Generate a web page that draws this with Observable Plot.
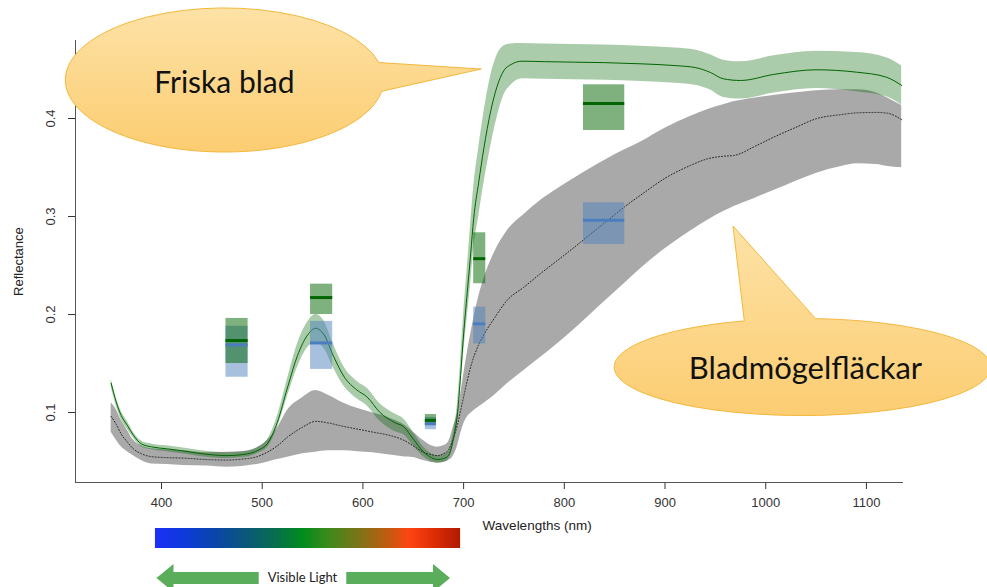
<!DOCTYPE html>
<html><head><meta charset="utf-8">
<script src="https://cdn.jsdelivr.net/npm/d3@7"></script>
<script src="https://cdn.jsdelivr.net/npm/@observablehq/plot@0.6"></script>
<style>body{margin:0;background:#fff} #chart svg{display:block}</style>
</head><body><div id="chart"></div>
<script>
// ---------- data ----------
const healthyWl = [350,355,360,366,372,380,390,405,420,440,465,480,490,497,505,515,525,535,545,553,561,571,581,594,604,617,631,641,650,660,668,674,680,685,690,694,697,700,703.5,707,710,715,720,727,733,740,747,758,780,810,840,876,910,930,945,958,975,1008,1050,1090,1120,1135];
const healthyMean = [0.130,0.111,0.097,0.087,0.077,0.068,0.065,0.063,0.061,0.058,0.056,0.057,0.059,0.062,0.068,0.090,0.125,0.158,0.179,0.186,0.180,0.157,0.137,0.123,0.116,0.100,0.090,0.085,0.073,0.060,0.054,0.052,0.053,0.056,0.074,0.100,0.138,0.180,0.221,0.262,0.298,0.335,0.369,0.408,0.432,0.449,0.455,0.4585,0.458,0.4575,0.457,0.4558,0.454,0.452,0.447,0.4405,0.4388,0.445,0.4497,0.4473,0.4421,0.4337];
const healthySd = [0.004,0.004,0.004,0.004,0.003,0.003,0.003,0.003,0.003,0.003,0.003,0.003,0.003,0.003,0.004,0.006,0.009,0.012,0.013,0.014,0.014,0.012,0.010,0.009,0.009,0.009,0.009,0.008,0.007,0.005,0.004,0.004,0.004,0.004,0.006,0.010,0.014,0.020,0.025,0.030,0.032,0.035,0.036,0.036,0.032,0.025,0.021,0.018,0.018,0.018,0.018,0.018,0.018,0.018,0.018,0.019,0.019,0.019,0.019,0.020,0.020,0.020];

const diseasedWl = [350,355,360,366,372,380,390,405,422,445,465,480,495,505,515,525,540,553,565,580,595,610,625,640,650,660,668,674,680,685,690,694,697,700,703.5,708,714,721,731,743,760,776,793,810,826,843,860,876,900,925,942,958,968,990,1008,1030,1050,1075,1091,1110,1121,1135];
const diseasedMean = [0.096,0.088,0.078,0.070,0.063,0.058,0.055,0.054,0.0535,0.052,0.0515,0.0525,0.055,0.0595,0.066,0.0748,0.085,0.091,0.0895,0.086,0.083,0.080,0.077,0.072,0.066,0.0595,0.057,0.056,0.058,0.062,0.074,0.088,0.102,0.116,0.132,0.150,0.167,0.181,0.197,0.2143,0.228,0.2415,0.255,0.2687,0.282,0.296,0.310,0.322,0.339,0.352,0.3588,0.3615,0.3622,0.372,0.381,0.391,0.3997,0.404,0.4058,0.4062,0.4054,0.3987];
const diseasedHi = [0.110,0.103,0.092,0.082,0.072,0.066,0.063,0.062,0.061,0.059,0.0595,0.060,0.064,0.0714,0.084,0.102,0.115,0.1224,0.118,0.110,0.104,0.0995,0.095,0.088,0.080,0.0714,0.066,0.0646,0.066,0.070,0.086,0.100,0.118,0.138,0.160,0.185,0.214,0.239,0.264,0.285,0.302,0.316,0.328,0.339,0.349,0.359,0.368,0.376,0.390,0.402,0.409,0.414,0.417,0.421,0.4235,0.4262,0.4283,0.4293,0.4293,0.4260,0.4210,0.4133];
const diseasedLo = [0.080,0.072,0.065,0.060,0.056,0.051,0.0476,0.047,0.046,0.0455,0.0442,0.045,0.047,0.0493,0.052,0.0544,0.058,0.0595,0.061,0.061,0.060,0.059,0.057,0.055,0.054,0.051,0.049,0.0485,0.049,0.051,0.056,0.066,0.078,0.088,0.0952,0.100,0.105,0.110,0.118,0.129,0.143,0.156,0.170,0.185,0.200,0.216,0.232,0.247,0.267,0.285,0.296,0.305,0.310,0.319,0.3265,0.336,0.344,0.351,0.3538,0.353,0.351,0.3497];

// band-averaged boxes (wavelength span, mean, range)
const boxX1 = [464, 548, 662, 710, 819];
const boxX2 = [486, 570, 673, 722, 860];
const boxHealthyMean = [0.1735, 0.2173, 0.092, 0.257, 0.4153];
const boxHealthyLo   = [0.150, 0.200, 0.087, 0.2314, 0.3878];
const boxHealthyHi   = [0.196, 0.231, 0.098, 0.2834, 0.4344];
const boxDiseasedMean = [0.169, 0.171, 0.0885, 0.1905, 0.2962];
const boxDiseasedLo   = [0.136, 0.144, 0.0825, 0.170, 0.2714];
const boxDiseasedHi   = [0.188, 0.193, 0.095, 0.2075, 0.314];

const xTicks = [400, 500, 600, 700, 800, 900, 1000, 1100];
const yTicks = [0.1, 0.2, 0.3, 0.4];
const spectrumWl = [400, 430, 460, 490, 520, 545, 570, 600, 630, 650, 675, 700];
const spectrumColor = ["#1c2ff7","#0d3ad8","#0a46a8","#0a5878","#07704a","#008c1c","#3c8a1c","#7c7418","#c45a10","#ff4412","#dc2c06","#b01a00"];
const calloutLabels = ["Friska blad", "Bladmögelfläckar"];
const arrowLabel = "Visible Light";
const xLabel = "Wavelengths (nm)";
const yLabel = "Reflectance";

// ---------- layout ----------
const xDomain = [314.6, 1136.8];
const yDomain = [0.0286, 0.4796];
const calloutGeom = [
  {cx: 463, cy: 0.4388, rx: 158, ry: 0.0735, tip: [718, 0.450], base: [-14, 9], textDy: 13, textDx: 0, size: 30},
  {cx: 1037, cy: 0.1459, rx: 187, ry: 0.0495, tip: [968, 0.2898], base: [-108, -86], textDy: 11.5, textDx: 3, size: 31}
];

const healthy = healthyWl.map((wl, i) => ({wl, mean: healthyMean[i], lo: healthyMean[i] - healthySd[i], hi: healthyMean[i] + healthySd[i]}));
const diseased = diseasedWl.map((wl, i) => ({wl, mean: diseasedMean[i], lo: diseasedLo[i], hi: diseasedHi[i]}));
const boxesH = boxX1.map((x1, i) => ({x1, x2: boxX2[i], mean: boxHealthyMean[i], lo: boxHealthyLo[i], hi: boxHealthyHi[i]}));
const boxesD = boxX1.map((x1, i) => ({x1, x2: boxX2[i], mean: boxDiseasedMean[i], lo: boxDiseasedLo[i], hi: boxDiseasedHi[i]}));

const plot = Plot.plot({
  width: 987, height: 587,
  marginLeft: 75, marginRight: 84, marginTop: 40, marginBottom: 105,
  style: {fontFamily: "'Liberation Sans', Arial, sans-serif", fontSize: "13px", color: "#333", background: "#fff", overflow: "visible"},
  x: {domain: xDomain, ticks: xTicks, tickSize: 7, tickPadding: 8, label: null, tickFormat: d => String(d)},
  y: {domain: yDomain, ticks: yTicks, tickSize: 7, tickFormat: () => "", label: null},
  marks: [
    Plot.areaY(diseased, {x: "wl", y1: "lo", y2: "hi", fill: "#a9a9a9", curve: "monotone-x"}),
    Plot.areaY(healthy, {x: "wl", y1: "lo", y2: "hi", fill: "#006400", fillOpacity: 0.33, curve: "monotone-x"}),
    Plot.line(diseased, {x: "wl", y: "mean", stroke: "#222", strokeWidth: 1, strokeDasharray: "1,2", curve: "monotone-x"}),
    Plot.line(healthy, {x: "wl", y: "mean", stroke: "#006400", strokeWidth: 1, curve: "monotone-x"}),
    Plot.rect(boxesD, {x1: "x1", x2: "x2", y1: "lo", y2: "hi", fill: "#4f81bd", fillOpacity: 0.5}),
    Plot.rect(boxesH, {x1: "x1", x2: "x2", y1: "lo", y2: "hi", fill: "#006400", fillOpacity: 0.5}),
    Plot.ruleY(boxesD, {y: "mean", x1: "x1", x2: "x2", stroke: "#4a7ebf", strokeWidth: 3}),
    Plot.ruleY(boxesH, {y: "mean", x1: "x1", x2: "x2", stroke: "#006400", strokeWidth: 3}),
    Plot.ruleX([xDomain[0]], {stroke: "#555"}),
    Plot.ruleY([yDomain[0]], {stroke: "#555"}),
    Plot.text(yTicks, {x: xDomain[0], y: d => d, text: d => String(d), rotate: -90, dx: -25, fill: "#333"}),
    Plot.text([yLabel], {x: xDomain[0], y: 0.254, text: d => d, rotate: -90, dx: -57, fill: "#222"}),
    Plot.text([xLabel], {x: 773, y: yDomain[0], text: d => d, dy: 43, fill: "#222", fontSize: 13.5})
  ]
});
document.getElementById("chart").appendChild(plot);

// ---------- overlays positioned through the plot's scales ----------
const sx = plot.scale("x"), sy = plot.scale("y");
const X = v => sx.apply(v), Y = v => sy.apply(v);
const svg = d3.select(plot);
const defs = svg.append("defs");

// spectrum bar
const spec = defs.append("linearGradient").attr("id", "spec").attr("x1", 0).attr("x2", 1).attr("y1", 0).attr("y2", 0);
spectrumWl.forEach((w, i) => spec.append("stop").attr("offset", (w - 400) / 300).attr("stop-color", spectrumColor[i]));
const bottom = Y(yDomain[0]);
const bx0 = X(394), bx1 = X(697);
svg.append("rect").attr("x", bx0).attr("y", bottom + 46).attr("width", bx1 - bx0).attr("height", 20).attr("fill", "url(#spec)");

// visible light arrow
const ay = bottom + 96, sh = 6, hh = 14, hl = 17;
const aL = X(395.5), aR = X(687), gL = X(497), gR = X(584);
const ag = svg.append("g").attr("fill", "#5aad5a");
ag.append("path").attr("d", `M${aL},${ay} L${aL + hl},${ay - hh} L${aL + hl},${ay - sh} L${gL},${ay - sh} L${gL},${ay + sh} L${aL + hl},${ay + sh} L${aL + hl},${ay + hh} Z`);
ag.append("path").attr("d", `M${aR},${ay} L${aR - hl},${ay - hh} L${aR - hl},${ay - sh} L${gR},${ay - sh} L${gR},${ay + sh} L${aR - hl},${ay + sh} L${aR - hl},${ay + hh} Z`);
svg.append("text").attr("x", (gL + gR) / 2).attr("y", ay + 4).attr("text-anchor", "middle")
  .attr("font-family", "Lato, 'Open Sans', sans-serif").attr("font-size", 13).attr("fill", "#222").text(arrowLabel);

// callouts
const cf = defs.append("linearGradient").attr("id", "callFill").attr("x1", 0).attr("x2", 0).attr("y1", 0).attr("y2", 1);
cf.append("stop").attr("offset", 0).attr("stop-color", "#fde2a6");
cf.append("stop").attr("offset", 1).attr("stop-color", "#fccd72");
calloutGeom.forEach((c, i) => {
  const cx = X(c.cx), cy = Y(c.cy);
  const rx = X(c.cx + c.rx) - cx, ry = cy - Y(c.cy + c.ry);
  const pt = a => [cx + rx * Math.cos(a * Math.PI / 180), cy + ry * Math.sin(a * Math.PI / 180)];
  const b1 = pt(c.base[0]), b2 = pt(c.base[1]);
  const tx = X(c.tip[0]), ty = Y(c.tip[1]);
  svg.append("path")
    .attr("d", `M${b1[0]},${b1[1]} L${tx},${ty} L${b2[0]},${b2[1]} A${rx},${ry} 0 1 1 ${b1[0]},${b1[1]} Z`)
    .attr("fill", "url(#callFill)").attr("stroke", "#f3b83c").attr("stroke-width", 1);
  svg.append("text").attr("x", cx + c.textDx).attr("y", cy + c.textDy).attr("text-anchor", "middle")
    .attr("font-family", "Lato, 'Open Sans', sans-serif").attr("font-size", c.size).attr("fill", "#111")
    .text(calloutLabels[i]);
});
</script>
</body></html>
